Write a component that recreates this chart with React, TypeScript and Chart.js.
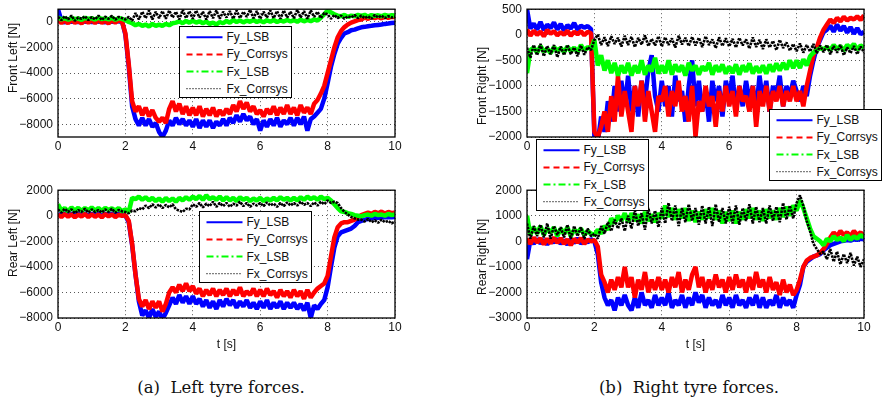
import React, { useEffect, useRef } from "react";
import { Chart, registerables } from "chart.js";

Chart.register(...registerables);
Chart.defaults.font.family = "'Liberation Sans', Arial, sans-serif";

// ---------- data ----------
const TIME_STEP = 0.1; // s, sample spacing of every series below (t = 0 .. 10 s)
const X_TICKS = [0, 2, 4, 6, 8, 10];
const SERIES_LABELS = ["Fy_LSB", "Fy_Corrsys", "Fx_LSB", "Fx_Corrsys"];

// Front Left
const FL_Y_TICKS = [-8000, -6000, -4000, -2000, 0];
const FL_FY_LSB = [
  1000, 120, -40, 150, 0, 110, -30, 140, 10, 90,
  -20, 130, 20, 100, -30, 150, 0, 120, 40, 60,
  -1000, -3500, -6600, -7600, -8100, -7500, -8100, -7600, -8200, -7900,
  -8600, -9000, -8500, -7700, -8100, -7500, -8000, -7600, -8100, -7700,
  -8200, -7600, -8300, -7700, -8200, -7700, -8300, -7800, -8100, -7600,
  -8100, -7500, -7900, -7300, -7800, -7200, -7700, -7400, -8000, -7600,
  -8500, -7700, -8200, -7600, -8100, -7500, -8200, -7700, -8000, -7500,
  -8100, -7500, -8000, -7400, -8500, -7600, -7400, -7100, -6800, -6000,
  -4800, -3500, -2500, -1700, -1250, -900, -800, -650, -600, -500,
  -420, -380, -330, -300, -260, -230, -200, -150, -120, -80, -50,
];
const FL_FY_CORRSYS = [
  150, -80, 120, -100, 170, -60, 100, -120, 150, -50,
  130, -90, 160, -70, 110, -120, 140, -60, 120, 20,
  -900, -3300, -6200, -7000, -6600, -7300, -6700, -7400, -6900, -7500,
  -7800, -7500, -7900, -6800, -6200, -7000, -6400, -7200, -6600, -7300,
  -6700, -7300, -6600, -7400, -6800, -7300, -6700, -7400, -6900, -7300,
  -6800, -7200, -6500, -7000, -6200, -6800, -6300, -7000, -6600, -7200,
  -6900, -7400, -6800, -7200, -6600, -7300, -6700, -7200, -6500, -7200,
  -6700, -7300, -6500, -7100, -6700, -7200, -6400, -6100, -5600, -5000,
  -4000, -3000, -2000, -1200, -700, -400, -200, -50, 50, 150,
  200, 350, 250, 420, 300, 400, 280, 430, 320, 410, 380,
];
const FL_FX_LSB = [
  350, 200, 300, 180, 320, 220, 280, 160, 330, 240,
  300, 180, 340, 220, 280, 200, 330, 170, 300, 250,
  150, 0, -100, -250, -150, -300, -200, -350, -150, -300,
  -200, -300, -150, -250, -100, -50, 50, -100, 80, -50,
  100, -50, 60, -100, 30, -150, -50, -200, 0, -100,
  80, -50, 150, 0, 120, -30, 100, 20, 150, 0,
  100, -20, 130, 20, 150, 0, 120, 30, 160, 40,
  150, 20, 180, 50, 160, 60, 200, 100, 350, 600,
  900, 750, 600, 500, 450, 550, 400, 500, 450, 550,
  480, 560, 420, 540, 470, 520, 450, 560, 480, 530, 500,
];
const FL_FX_CORRSYS = [
  400, 150, 450, 200, 500, 100, 350, 250, 450, 150,
  380, 200, 500, 150, 420, 250, 480, 180, 400, 300,
  200, 400, 100, 700, 200, 800, 300, 900, 200, 800,
  300, 850, 250, 900, 350, 800, 200, 950, 300, 850,
  250, 900, 350, 800, 200, 850, 300, 900, 250, 800,
  350, 850, 250, 900, 300, 800, 400, 950, 300, 850,
  250, 800, 350, 900, 300, 850, 250, 900, 350, 800,
  300, 950, 350, 850, 250, 900, 400, 800, 300, 700,
  600, 250, 550, 300, 500, 250, 450, 350, 550, 300,
  500, 300, 450, 250, 550, 350, 500, 300, 450, 350, 400,
];

// Front Right
const FR_Y_TICKS = [-2000, -1500, -1000, -500, 0, 500];
const FR_FY_LSB = [
  500, 120, 220, 100, 250, 90, 200, 130, 240, 100,
  210, 80, 190, 120, 230, 100, 180, 140, 170, 110,
  -2000, -2100, -1600, -1900, -1300, -1700, -1000, -1500, -900, -1400,
  -800, -1500, -1000, -1600, -900, -1300, -700, -400, -1200, -1500,
  -900, -1400, -1000, -1600, -800, -1300, -1100, -1700, -1000, -500,
  -1400, -900, -1500, -1100, -1700, -900, -1300, -1000, -1600, -900,
  -1200, -800, -1500, -1000, -1400, -900, -1300, -1000, -1500, -800,
  -1300, -900, -1500, -1000, -1200, -800, -1400, -1000, -1200, -900,
  -1100, -1300, -1000, -1200, -800, -500, -250, -100, 50, 100,
  180, 60, 200, 80, 170, 40, 150, 20, 130, 10, 60,
];
const FR_FY_CORRSYS = [
  100, -20, 80, 0, 60, -30, 90, 20, 70, -10,
  50, 0, 80, -20, 60, 10, 70, -10, 60, 30,
  -1900, -2000, -1800, -1500, -1900, -1200, -1700, -800, -1600, -1100,
  -1500, -1900, -1000, -1400, -900, -1700, -1100, -1500, -1900, -1200,
  -1300, -1000, -1600, -1100, -1400, -900, -1500, -1200, -1700, -1000,
  -2000, -1300, -1500, -1000, -1400, -1200, -1800, -1100, -1500, -1000,
  -1400, -1100, -1600, -1000, -1300, -1200, -1500, -1000, -1800, -1100,
  -1400, -1000, -1500, -1100, -1300, -1000, -1400, -1100, -1300, -1000,
  -1300, -1100, -1400, -1000, -700, -400, -250, -50, 100, 200,
  300, 230, 330, 260, 350, 280, 330, 300, 360, 290, 380,
];
const FR_FX_LSB = [
  -750, -300, -250, -350, -220, -330, -270, -360, -240, -310,
  -260, -340, -230, -320, -250, -340, -200, -310, -240, -280,
  -100, -600, -400, -700, -500, -750, -550, -800, -600, -750,
  -550, -800, -600, -750, -500, -780, -600, -720, -450, -760,
  -600, -750, -500, -780, -580, -720, -600, -800, -550, -700,
  -600, -780, -620, -700, -550, -780, -600, -720, -580, -760,
  -620, -750, -580, -780, -600, -720, -560, -760, -620, -740,
  -600, -760, -580, -720, -560, -700, -550, -680, -500, -650,
  -500, -650, -480, -600, -420, -350, -300, -260, -280, -240,
  -300, -200, -280, -220, -310, -200, -260, -180, -290, -210, -250,
];
const FR_FX_CORRSYS = [
  -250, -450, -200, -400, -180, -420, -220, -380, -200, -440,
  -230, -400, -200, -380, -250, -420, -210, -390, -240, -300,
  -100, 0, -200, -50, -220, -30, -180, -60, -230, -20,
  -200, -40, -240, -60, -190, -10, -220, -80, -210, -30,
  -230, -50, -200, -70, -250, -20, -190, -60, -220, -40,
  -210, -60, -240, -30, -200, -90, -260, -50, -220, -70,
  -230, -80, -250, -60, -210, -90, -270, -50, -240, -100,
  -280, -90, -250, -120, -300, -100, -260, -150, -310, -180,
  -320, -170, -350, -200, -330, -180, -360, -210, -340, -200,
  -380, -220, -350, -200, -400, -250, -360, -220, -380, -230, -350,
];

// Rear Left
const RL_Y_TICKS = [-8000, -6000, -4000, -2000, 0, 2000];
const RL_FY_LSB = [
  150, 0, 200, 30, 180, -20, 160, 40, 190, 0,
  170, 20, 200, -10, 150, 50, 180, 0, 160, 80,
  0, -500, -2300, -4600, -6700, -7800, -7400, -8000, -7300, -7900,
  -7500, -8100, -7600, -7000, -6400, -6900, -6200, -6800, -6300, -6900,
  -6300, -6900, -6500, -7100, -6600, -7200, -6700, -7300, -6600, -7100,
  -6500, -7000, -6600, -7200, -6700, -7100, -6600, -7200, -6800, -7300,
  -6700, -7200, -6600, -7300, -6800, -7200, -6700, -7300, -6800, -7200,
  -6800, -7300, -6900, -7400, -6800, -8000, -7000, -7300, -6900, -6600,
  -5600, -4000, -2500, -1600, -1300, -1200, -1100, -1000, -800, -500,
  -400, -300, -250, -200, -180, -150, -130, -120, -100, -110, -100,
];
const RL_FY_CORRSYS = [
  100, -100, 150, -80, 120, -120, 100, -60, 150, -100,
  120, -80, 100, -120, 140, -50, 110, -100, 80, 0,
  50, -400, -2200, -4600, -6500, -7100, -6600, -7300, -6700, -7200,
  -6700, -7500, -6900, -6000, -5600, -6000, -5400, -5900, -5300, -5900,
  -5500, -6100, -5700, -6300, -5800, -6200, -5700, -6300, -5800, -6200,
  -5700, -6300, -5800, -6200, -5600, -6300, -5900, -6200, -5700, -6300,
  -5800, -6300, -5700, -6200, -5900, -6400, -5800, -6300, -5900, -6400,
  -5800, -6300, -5900, -6500, -5800, -6400, -6000, -5700, -5500, -5300,
  -4700, -3200, -1700, -900, -600, -500, -500, -400, -300, -100,
  50, 150, 250, 150, 300, 200, 320, 180, 300, 200, 250,
];
const RL_FX_LSB = [
  900, 400, 600, 350, 650, 400, 620, 380, 600, 420,
  650, 400, 600, 380, 620, 450, 580, 400, 600, 350,
  500, 300, 1400, 1300, 1500, 1250, 1450, 1200, 1400, 1150,
  1350, 1100, 1400, 1150, 1350, 1100, 1400, 1200, 1450, 1250,
  1500, 1300, 1550, 1250, 1600, 1300, 1450, 1250, 1500, 1200,
  1450, 1200, 1400, 1150, 1450, 1250, 1400, 1150, 1350, 1200,
  1400, 1150, 1350, 1200, 1400, 1200, 1450, 1250, 1400, 1200,
  1400, 1200, 1450, 1250, 1500, 1300, 1450, 1250, 1500, 1300,
  1400, 1200, 900, 600, 350, 300, 200, 150, 50, 0,
  -50, 50, 100, 0, 150, 50, 100, 0, 150, 50, 100,
];
const RL_FX_CORRSYS = [
  500, 250, 550, 300, 500, 200, 450, 300, 550, 250,
  500, 300, 450, 250, 500, 300, 550, 250, 450, 350,
  300, 200, 400, 350, 600, 500, 800, 600, 900, 650,
  900, 600, 850, 650, 900, 500, 400, 300, 550, 500,
  900, 700, 1000, 650, 950, 750, 1100, 700, 1000, 750,
  1000, 700, 950, 800, 1100, 750, 1000, 700, 950, 800,
  1000, 750, 1050, 800, 950, 700, 1000, 750, 1050, 800,
  1000, 800, 1100, 850, 1000, 750, 1050, 800, 1100, 900,
  1200, 1000, 1100, 1000, 600, 300, 100, -100, -200, -300,
  -300, -450, -250, -500, -350, -550, -300, -500, -400, -600, -450,
];

// Rear Right
const RR_Y_TICKS = [-3000, -2000, -1000, 0, 1000, 2000];
const RR_FY_LSB = [
  -700, 50, -100, 100, -80, 60, -120, 80, -50, 100,
  -100, 50, -130, 80, -60, 120, -90, 50, -40, 80,
  0, -500, -1600, -2200, -2500, -2300, -2700, -2200, -2500, -2100,
  -2500, -2700, -2200, -2600, -2000, -2500, -2300, -2600, -2100, -2500,
  -2200, -2500, -2000, -2600, -2300, -2500, -2100, -2600, -2200, -2500,
  -2000, -2400, -2100, -2600, -2200, -2500, -2300, -2600, -2100, -2500,
  -2200, -2600, -2100, -2500, -2300, -2600, -2200, -2500, -2100, -2600,
  -2200, -2600, -2300, -2500, -2100, -2600, -2200, -2500, -2300, -2600,
  -2100, -1700, -1000, -800, -700, -600, -550, -500, -350, -250,
  -150, -100, -50, 0, 20, 50, 30, 80, 60, 100, 80,
];
const RR_FY_CORRSYS = [
  100, -100, 150, -50, 120, -120, 100, -80, 150, -60,
  120, -100, 80, -150, 100, -50, 130, -100, 60, 0,
  50, -200, -1300, -1600, -2000, -1500, -1900, -1400, -1800, -1000,
  -1800, -1400, -2200, -1500, -1900, -1200, -2000, -1500, -1900, -1400,
  -1900, -1500, -2000, -1400, -1800, -1200, -2000, -1500, -1900, -1300,
  -1000, -1800, -1400, -2000, -1500, -1900, -1300, -1800, -1500, -2000,
  -1400, -1900, -1300, -1800, -1500, -2000, -1400, -1900, -1200, -1800,
  -1500, -2000, -1400, -1900, -1600, -2100, -1500, -2000, -1700, -2100,
  -1900, -1500, -1000, -750, -650, -600, -550, -450, -300, -100,
  150, 350, 200, 400, 250, 350, 200, 400, 250, 350, 200,
];
const RR_FX_LSB = [
  1000, 250, 550, 300, 600, 250, 500, 350, 550, 200,
  500, 300, 550, 200, 450, 350, 500, 250, 400, 300,
  250, 450, 300, 600, 450, 900, 700, 1000, 800, 1100,
  750, 1100, 800, 1050, 700, 1150, 800, 1050, 750, 1100,
  900, 1400, 950, 1300, 850, 1250, 900, 1300, 800, 1200,
  750, 1150, 850, 1250, 900, 1300, 850, 1200, 700, 1150,
  800, 1200, 700, 1150, 850, 1250, 900, 1300, 850, 1200,
  800, 1250, 900, 1200, 850, 1300, 950, 1350, 1000, 1400,
  1200, 1600, 1300, 900, 500, 200, 100, 0, -150, 100,
  0, 200, 50, 150, 0, 250, 50, 200, 100, 250, 150,
];
const RR_FX_CORRSYS = [
  700, 100, 600, 200, 650, 150, 700, 100, 600, 250,
  550, 150, 650, 100, 600, 200, 550, 100, 500, 200,
  300, 100, 600, 300, 750, 400, 850, 500, 900, 400,
  1000, 500, 1200, 600, 1100, 450, 1300, 700, 1200, 550,
  1300, 700, 1500, 800, 1400, 600, 1300, 750, 1450, 800,
  1300, 650, 1400, 700, 1350, 600, 1450, 750, 1300, 700,
  1350, 700, 1400, 650, 1300, 800, 1450, 700, 1350, 750,
  1300, 700, 1400, 800, 1350, 750, 1500, 850, 1400, 900,
  1500, 1800, 1400, 800, 400, -100, -300, -500, -400, -700,
  -300, -800, -400, -900, -500, -850, -450, -950, -600, -1000, -700,
];

// ---------- styles ----------
// legend samples use the MATLAB line styles; the dense noisy traces are drawn as thick strokes
const STYLES = [
  { color: "#0000ff", dash: [] as number[], width: 2, plotDash: [] as number[], plotWidth: 4.5 },
  { color: "#ff0000", dash: [6, 4], width: 2, plotDash: [] as number[], plotWidth: 4.5 },
  { color: "#00ff00", dash: [7, 3, 2, 3], width: 2, plotDash: [] as number[], plotWidth: 4.5 },
  { color: "#000000", dash: [1, 2], width: 1.2, plotDash: [2.5, 1], plotWidth: 2.6 },
];

const FONT = "'Liberation Sans', Arial, sans-serif";
const fmt = (v: number) => (v < 0 ? "\u2212" + Math.abs(v) : String(v));

const boxPlugin = {
  id: "box",
  afterDatasetsDraw(chart: any) {
    const { ctx, chartArea: a } = chart;
    ctx.save();
    ctx.strokeStyle = "#000";
    ctx.lineWidth = 1.3;
    ctx.strokeRect(a.left, a.top, a.right - a.left, a.bottom - a.top);
    ctx.restore();
  },
};

const PAD_L = 58, PAD_T = 10, PAD_R = 12, PAD_B = 22;

type PlotProps = {
  left: number; top: number; width: number; height: number;
  yMin: number; yMax: number; yTicks: number[]; values: number[][];
};

function Plot({ left, top, width, height, yMin, yMax, yTicks, values }: PlotProps) {
  const ref = useRef<HTMLCanvasElement>(null);
  const cw = width + PAD_L + PAD_R;
  const ch = height + PAD_T + PAD_B;
  useEffect(() => {
    const chart = new Chart(ref.current!, {
      type: "line",
      data: {
        datasets: values.map((vals, k) => ({
          label: SERIES_LABELS[k],
          data: vals.map((v, i) => ({ x: i * TIME_STEP, y: v })),
          borderColor: STYLES[k].color,
          borderWidth: STYLES[k].plotWidth,
          borderDash: STYLES[k].plotDash,
          borderJoinStyle: "bevel",
          pointRadius: 0,
          tension: 0,
          fill: false,
          clip: 0,
          order: values.length - k,
        })),
      },
      options: {
        animation: false,
        responsive: false,
        maintainAspectRatio: false,
        events: [],
        layout: { padding: { left: 0, top: PAD_T, right: PAD_R, bottom: 0 } },
        plugins: { legend: { display: false }, tooltip: { enabled: false } },
        scales: {
          x: {
            type: "linear",
            min: 0,
            max: 10,
            afterBuildTicks: (s: any) => { s.ticks = X_TICKS.map((v) => ({ value: v })); },
            afterFit: (s: any) => { s.height = PAD_B; },
            ticks: { padding: 2.5, color: "#111", font: { size: 12, family: FONT }, maxRotation: 0, autoSkip: false, callback: (v: any) => fmt(Number(v)) },
            grid: { color: "rgba(0,0,0,0.65)", lineWidth: 1, drawTicks: false },
            border: { display: false, dash: [1, 3] },
          },
          y: {
            type: "linear",
            min: yMin,
            max: yMax,
            afterBuildTicks: (s: any) => { s.ticks = yTicks.map((v) => ({ value: v })); },
            afterFit: (s: any) => { s.width = PAD_L; },
            ticks: { padding: 5, color: "#111", font: { size: 12, family: FONT }, autoSkip: false, callback: (v: any) => fmt(Number(v)) },
            grid: { color: "rgba(0,0,0,0.65)", lineWidth: 1, drawTicks: false },
            border: { display: false, dash: [1, 3] },
          },
        },
      } as any,
      plugins: [boxPlugin],
    });
    return () => chart.destroy();
  }, []);
  return (
    <canvas
      ref={ref}
      width={cw}
      height={ch}
      style={{ position: "absolute", left: left - PAD_L, top: top - PAD_T, width: cw, height: ch }}
    />
  );
}

function Legend({ left, top }: { left: number; top: number }) {
  const w = 113, h = 72;
  return (
    <div style={{ position: "absolute", left, top, width: w, height: h, background: "#fff", border: "1.3px solid #000", boxSizing: "border-box" }}>
      <svg width={w} height={h} style={{ position: "absolute", left: -1, top: -1 }}>
        {SERIES_LABELS.map((lab, i) => {
          const y = 11.3 + 17.1 * i;
          return (
            <line key={lab} x1={7.5} x2={43.5} y1={y} y2={y} stroke={STYLES[i].color}
              strokeWidth={STYLES[i].width} strokeDasharray={STYLES[i].dash.length ? STYLES[i].dash.join(" ") : undefined} />
          );
        })}
      </svg>
      {SERIES_LABELS.map((lab, i) => (
        <span key={lab} style={{ position: "absolute", left: 46.5, top: 11.3 + 17.1 * i - 8, fontFamily: FONT, fontSize: 12, lineHeight: "14px", color: "#111", whiteSpace: "nowrap" }}>
          {lab}
        </span>
      ))}
    </div>
  );
}

function YTitle({ text, x, y }: { text: string; x: number; y: number }) {
  return (
    <div style={{ position: "absolute", left: x, top: y, transform: "translate(-50%, -50%) rotate(-90deg)", fontFamily: FONT, fontSize: 12, color: "#111", whiteSpace: "nowrap", lineHeight: "14px" }}>
      {text}
    </div>
  );
}

function CenterText({ text, x, y, font, size }: { text: string; x: number; y: number; font: string; size: number }) {
  return (
    <div style={{ position: "absolute", left: x, top: y, transform: "translate(-50%, -50%)", fontFamily: font, fontSize: size, color: "#111", whiteSpace: "pre", lineHeight: `${Math.round(size + 2)}px` }}>
      {text}
    </div>
  );
}

export default function App() {
  return (
    <div style={{ position: "fixed", left: 0, top: 0, width: 882, height: 398, background: "#fff", overflow: "hidden" }}>
      <Plot left={58} top={7} width={337} height={130} yMin={-9000} yMax={1000} yTicks={FL_Y_TICKS}
        values={[FL_FY_LSB, FL_FY_CORRSYS, FL_FX_LSB, FL_FX_CORRSYS]} />
      <Plot left={527} top={7} width={337} height={130} yMin={-2000} yMax={500} yTicks={FR_Y_TICKS}
        values={[FR_FY_LSB, FR_FY_CORRSYS, FR_FX_LSB, FR_FX_CORRSYS]} />
      <Plot left={58} top={188} width={337} height={130} yMin={-8000} yMax={2000} yTicks={RL_Y_TICKS}
        values={[RL_FY_LSB, RL_FY_CORRSYS, RL_FX_LSB, RL_FX_CORRSYS]} />
      <Plot left={527} top={188} width={337} height={130} yMin={-3000} yMax={2000} yTicks={RR_Y_TICKS}
        values={[RR_FY_LSB, RR_FY_CORRSYS, RR_FX_LSB, RR_FX_CORRSYS]} />

      <YTitle text="Front Left [N]" x={12.5} y={57.5} />
      <YTitle text="Rear Left [N]" x={12.5} y={243} />
      <YTitle text="Front Right [N]" x={482} y={86} />
      <YTitle text="Rear Right [N]" x={482} y={257} />

      <CenterText text="t [s]" x={226.5} y={344} font={FONT} size={12} />
      <CenterText text="t [s]" x={695.5} y={344} font={FONT} size={12} />

      <Legend left={179} top={26} />
      <Legend left={199} top={211} />
      <Legend left={769} top={109} />
      <Legend left={536} top={139} />

      <CenterText text="(a)  Left tyre forces." x={221} y={387} font="'DejaVu Serif', serif" size={16.5} />
      <CenterText text="(b)  Right tyre forces." x={689} y={387} font="'DejaVu Serif', serif" size={16.5} />
    </div>
  );
}
